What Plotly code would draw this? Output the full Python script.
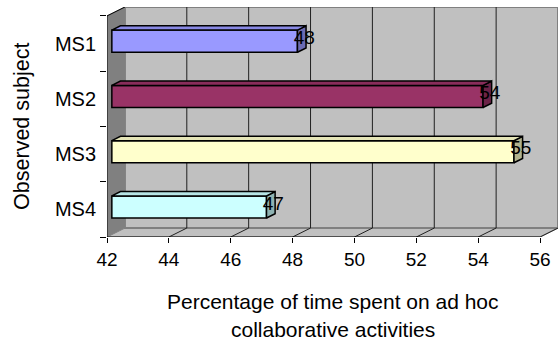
import plotly.graph_objects as go

# Share of time spent on ad hoc collaborative activities per observed subject
subjects = ["MS1", "MS2", "MS3", "MS4"]
values = [48, 54, 55, 47]
colors = ["#9999FF", "#993366", "#FFFFCC", "#CCFFFF"]

x_ticks = [42, 44, 46, 48, 50, 52, 54, 56]
x_min, x_max = 42, 56

# Pseudo-3D box: depth offset of the back wall in axis units
DX, DY = 0.58, 0.162
F1, F2 = 0.27, 0.75          # front/back depth fraction of each bar
HALF = 0.2                   # half bar thickness in category units
FONT = "Arial, Liberation Sans, sans-serif"

n = len(subjects)
ypos = [n - 1 - k for k in range(n)]          # MS1 on top
y_lo, y_hi = -0.5, n - 0.5


def shade(hex_color, k):
    r, g, b = (int(hex_color[i:i + 2], 16) for i in (1, 3, 5))
    return "#%02x%02x%02x" % (int(r * k), int(g * k), int(b * k))


def poly(pts):
    return "M " + " L ".join(f"{x},{y}" for x, y in pts) + " Z"


shapes = []
# left side wall
shapes.append(dict(type="path", layer="below", xref="x", yref="y",
                   path=poly([(x_min, y_lo), (x_min, y_hi), (x_min + DX, y_hi + DY), (x_min + DX, y_lo + DY)]),
                   fillcolor="#808080", line=dict(color="#808080", width=1)))
# floor
shapes.append(dict(type="path", layer="below", xref="x", yref="y",
                   path=poly([(x_min, y_lo), (x_max, y_lo), (x_max + DX, y_lo + DY), (x_min + DX, y_lo + DY)]),
                   fillcolor="#C0C0C0", line=dict(color="#808080", width=1)))
# back wall
shapes.append(dict(type="rect", layer="below", xref="x", yref="y",
                   x0=x_min + DX, x1=x_max + DX, y0=y_lo + DY, y1=y_hi + DY,
                   fillcolor="#C0C0C0", line=dict(color="#808080", width=2)))
# gridlines on the back wall and their floor slants
for v in x_ticks[1:-1]:
    shapes.append(dict(type="line", layer="below", xref="x", yref="y",
                       x0=v + DX, x1=v + DX, y0=y_lo + DY, y1=y_hi + DY,
                       line=dict(color="#202020", width=1)))
for v in x_ticks[1:]:
    shapes.append(dict(type="line", layer="below", xref="x", yref="y",
                       x0=v, x1=v + DX, y0=y_lo, y1=y_lo + DY,
                       line=dict(color="#202020", width=1)))
# axis lines
shapes.append(dict(type="line", xref="x", yref="y", x0=x_min, x1=x_max, y0=y_lo, y1=y_lo,
                   line=dict(color="black", width=1)))
shapes.append(dict(type="line", xref="x", yref="y", x0=x_min, x1=x_min, y0=y_lo, y1=y_hi,
                   line=dict(color="black", width=1)))
shapes.append(dict(type="line", xref="x", yref="y", x0=x_min, x1=x_min + DX, y0=y_hi, y1=y_hi + DY,
                   line=dict(color="black", width=1)))

fig = go.Figure()
edge = dict(color="black", width=1.5)
for y, v, c in zip(ypos, values, colors):
    # end face
    fig.add_trace(go.Scatter(
        x=[v + DX * F1, v + DX * F1, v + DX * F2, v + DX * F2, v + DX * F1],
        y=[y - HALF + DY * F1, y + HALF + DY * F1, y + HALF + DY * F2, y - HALF + DY * F2, y - HALF + DY * F1],
        mode="lines", fill="toself", fillcolor=shade(c, 0.7), line=edge,
        hoverinfo="skip", showlegend=False))
    # top face
    fig.add_trace(go.Scatter(
        x=[x_min + DX * F1, v + DX * F1, v + DX * F2, x_min + DX * F2, x_min + DX * F1],
        y=[y + HALF + DY * F1, y + HALF + DY * F1, y + HALF + DY * F2, y + HALF + DY * F2, y + HALF + DY * F1],
        mode="lines", fill="toself", fillcolor=shade(c, 0.9), line=edge,
        hoverinfo="skip", showlegend=False))
    # front face
    fig.add_trace(go.Bar(
        orientation="h", y=[y + DY * F1], x=[v - x_min], base=[x_min + DX * F1],
        width=2 * HALF, marker=dict(color=c, line=edge), showlegend=False))

# value labels at the bar ends
fig.add_trace(go.Scatter(
    x=[v + DX * 0.65 for v in values], y=[y + DY * 0.5 for y in ypos],
    mode="text", text=[str(v) for v in values], textposition="middle center",
    textfont=dict(family=FONT, size=19, color="black"),
    hoverinfo="skip", showlegend=False))

fig.update_layout(
    width=559, height=347,
    margin=dict(l=107, r=1, t=7, b=110),
    paper_bgcolor="white", plot_bgcolor="white",
    shapes=shapes,
    font=dict(family=FONT, size=19, color="black"),
    xaxis=dict(range=[x_min, x_max + DX + 0.0], tickvals=x_ticks, ticks="outside",
               ticklen=5, tickcolor="black", showgrid=False, zeroline=False,
               showline=False, ticklabelstandoff=0, fixedrange=True),
    yaxis=dict(type="linear", range=[y_lo, y_hi + DY], tickvals=ypos, ticktext=subjects,
               ticks="", showgrid=False, zeroline=False, showline=False,
               ticklabelstandoff=10, tickfont=dict(size=20),
               minor=dict(tickvals=[y_lo + k for k in range(n + 1)], ticks="outside",
                          ticklen=6, tickcolor="black", showgrid=False),
               fixedrange=True),
    annotations=[
        dict(text="Observed subject", textangle=-90, xref="paper", yref="paper",
             x=-0.19, y=0.48, xanchor="center", yanchor="middle", showarrow=False,
             font=dict(family=FONT, size=21.5)),
        dict(text="Percentage of time spent on ad hoc", xref="paper", yref="paper",
             x=0.5, y=-0.28, xanchor="center", yanchor="middle", showarrow=False,
             font=dict(family=FONT, size=21)),
        dict(text="collaborative activities", xref="paper", yref="paper",
             x=0.5, y=-0.4, xanchor="center", yanchor="middle", showarrow=False,
             font=dict(family=FONT, size=21)),
    ],
)

fig.write_html("out.html")
